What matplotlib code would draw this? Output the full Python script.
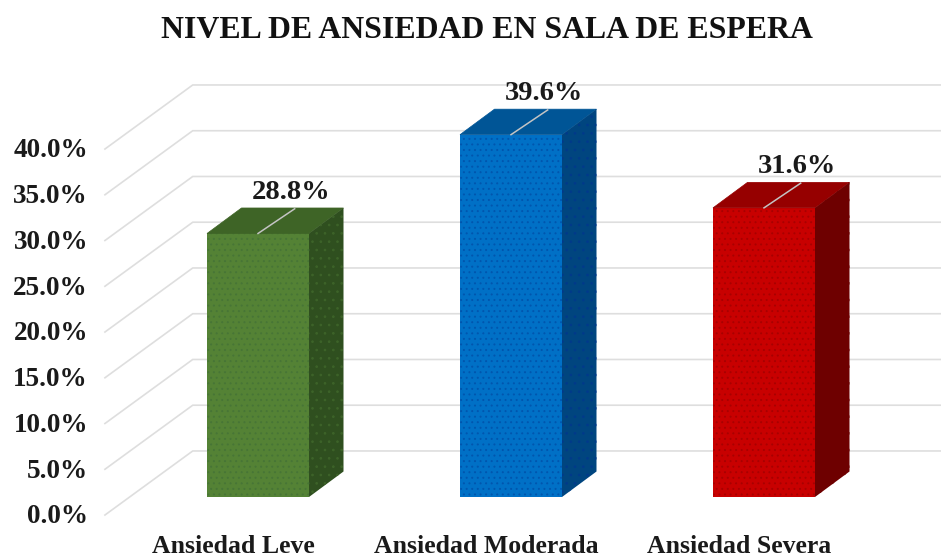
import matplotlib
import matplotlib.pyplot as plt
from matplotlib.patches import Polygon

matplotlib.use('Agg')

plt.rcParams['font.family'] = ['Liberation Serif', 'DejaVu Serif']
plt.rcParams['font.weight'] = 'bold'
plt.rcParams['hatch.linewidth'] = 0.7

# Data
categories = ["Ansiedad Leve", "Ansiedad Moderada", "Ansiedad Severa"]
values = [28.8, 39.6, 31.6]
value_labels = ["28.8%", "39.6%", "31.6%"]
ticks = [0, 5, 10, 15, 20, 25, 30, 35, 40]
tick_labels = ["0.0%", "5.0%", "10.0%", "15.0%", "20.0%", "25.0%", "30.0%", "35.0%", "40.0%"]

# Colors: front, top, side, stipple
front_colors = ["#548235", "#0070c6", "#c80000"]
top_colors = ["#3e6426", "#005596", "#960000"]
side_colors = ["#2f4f1f", "#00457f", "#6e0000"]
dot_colors = ["#477536", "#0056ae", "#a80000"]
side_dot_colors = ["#3d6329", "#003a8a", "#6e0000"]

fig = plt.figure(figsize=(9.41, 5.59), dpi=100)
ax = fig.add_axes([0, 0, 1, 1])
# one category = 253 px, one percent = 9.15 px, bars sit on the middle plane
ax.set_xlim(-258 / 253, 683 / 253)
ax.set_ylim(-62 / 9.15, 497 / 9.15)
ax.axis("off")

width = 102 / 253
depth_x = 34.5 / 253
depth_y = 25.5 / 9.15

# Gridlines: slanted on the floor side, then flat along the back wall
grid_front_x = -0.605
grid_back_x = -0.258
grid_front_dy = -1.97
grid_back_dy = 5.03
for t, label in zip(ticks, tick_labels):
    ax.plot([grid_front_x, grid_back_x, 2.72], [t + grid_front_dy, t + grid_back_dy, t + grid_back_dy],
            color="#dedede", lw=1.2, zorder=1, solid_joinstyle="miter")
    ax.text(-0.672, t + grid_front_dy - 0.2, label, ha="right", va="center", fontsize=19.5, color="#1a1a1a")

# Bars with fake 3D top and side
for i, v in enumerate(values):
    left = i - width / 2
    right = i + width / 2
    ax.bar(i, v, width, color=front_colors[i], edgecolor=dot_colors[i], hatch="...", linewidth=0, zorder=3)
    ax.add_patch(Polygon([(left, v), (right, v), (right + depth_x, v + depth_y), (left + depth_x, v + depth_y)],
                         facecolor=top_colors[i], edgecolor=top_colors[i], lw=0.5, zorder=3))
    ax.add_patch(Polygon([(right, 0), (right + depth_x, depth_y), (right + depth_x, v + depth_y), (right, v)],
                         facecolor=side_colors[i], edgecolor=side_dot_colors[i], hatch="..", lw=0, zorder=3))
    # leader line to the value label
    ax.plot([i, i + 0.145], [v, v + 2.7], color="#c4c4c4", lw=1.1, zorder=4)
    ax.text(i + 0.13, v + 4.5, value_labels[i], ha="center", va="center", fontsize=20.5, color="#1a1a1a", zorder=5)
    ax.text(i - 0.097, -5.4, categories[i], ha="center", va="center", fontsize=18.5, color="#1a1a1a")

ax.text(229 / 253, (497 - 30) / 9.15, "NIVEL DE ANSIEDAD EN SALA DE ESPERA",
        ha="center", va="center", fontsize=22.9, color="#111111")

plt.savefig("out.png", dpi=100)
plt.close()
